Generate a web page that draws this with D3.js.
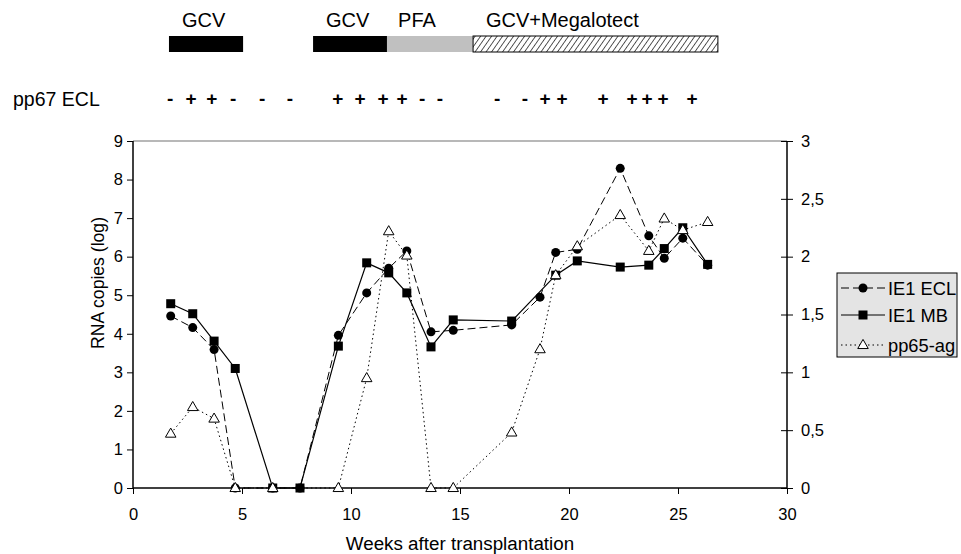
<!DOCTYPE html>
<head>
    <meta charset="utf-8" />
    <script src="https://d3js.org/d3.v7.min.js"></script>
    <style>
        body { margin: 0; background: #fff; }
        text { font-family: "Liberation Sans", Arial, sans-serif; fill: #000; }
    </style>
</head>
<body>
    <script>
        // data
        var weeks = [1.73, 2.74, 3.72, 4.69, 6.41, 7.66, 9.42, 10.72, 11.73, 12.56, 13.67, 14.69, 17.37, 18.67, 19.39, 20.38, 22.35, 23.66, 24.37, 25.22, 26.36];
        var ie1Ecl = [4.46, 4.16, 3.59, 0, 0, 0, 3.96, 5.06, 5.70, 6.15, 4.05, 4.09, 4.23, 4.95, 6.11, 6.19, 8.29, 6.54, 5.96, 6.48, 5.78];
        var ie1Mb = [4.78, 4.52, 3.81, 3.10, 0, 0, 3.68, 5.84, 5.58, 5.06, 3.66, 4.36, 4.33, null, 5.52, 5.89, 5.73, 5.78, 6.21, 6.75, 5.80];
        var pp65ag = [0.47, 0.70, 0.60, 0, 0, null, 0, 0.95, 2.22, 2.01, 0, 0, 0.48, 1.20, 1.84, 2.09, 2.36, 2.05, 2.33, 2.23, 2.30];

        var pp67Signs = ["-", "+", "+", "-", "-", "-", "+", "+", "+", "+", "-", "-", "-", "-", "+", "+", "+", "+", "+", "+", "+"];
        var pp67Weeks = [1.70, 2.66, 3.62, 4.59, 5.92, 7.20, 9.40, 10.41, 11.47, 12.34, 13.26, 14.08, 16.70, 17.98, 18.90, 19.68, 21.56, 22.89, 23.58, 24.31, 25.64];

        var therapyNames = ["GCV", "GCV", "PFA", "GCV+Megalotect"];
        var therapyStart = [1.65, 8.26, 11.65, 15.6];
        var therapyEnd = [5.05, 11.65, 15.6, 26.83];
        var therapyLabelAt = [2.25, 8.85, 12.16, 16.19];
        var therapyFill = ["black", "black", "grey", "hatch"];

        var xTicks = [0, 5, 10, 15, 20, 25, 30];
        var yTicks = [0, 1, 2, 3, 4, 5, 6, 7, 8, 9];
        var y2Ticks = [0, 0.5, 1, 1.5, 2, 2.5, 3];

        var width = 961, height = 554;
        var plotL = 133, plotR = 787, plotT = 141, plotB = 488;

        var svg = d3.select("body").append("svg")
            .attr("width", width)
            .attr("height", height);

        var defs = svg.append("defs");
        var pat = defs.append("pattern")
            .attr("id", "hatch")
            .attr("patternUnits", "userSpaceOnUse")
            .attr("width", 4.5).attr("height", 4.5)
            .attr("patternTransform", "rotate(35)");
        pat.append("rect").attr("width", 4.5).attr("height", 4.5).attr("fill", "#fff");
        pat.append("line").attr("x1", 0).attr("y1", 0).attr("x2", 0).attr("y2", 4.5)
            .attr("stroke", "#000").attr("stroke-width", 1.3);

        var x = d3.scaleLinear().domain([0, 30]).range([plotL, plotR]);
        var y = d3.scaleLinear().domain([0, 9]).range([plotB, plotT]);
        var y2 = d3.scaleLinear().domain([0, 3]).range([plotB, plotT]);

        // therapy bars
        var fills = { black: "#000", grey: "#c0c0c0", hatch: "url(#hatch)" };
        therapyNames.forEach(function (n, i) {
            svg.append("rect")
                .attr("x", x(therapyStart[i]))
                .attr("y", 36)
                .attr("width", x(therapyEnd[i]) - x(therapyStart[i]))
                .attr("height", 16)
                .attr("fill", fills[therapyFill[i]])
                .attr("stroke", therapyFill[i] == "hatch" ? "#000" : "none")
                .attr("stroke-width", 1);
            svg.append("text")
                .attr("x", x(therapyLabelAt[i]))
                .attr("y", 27)
                .attr("font-size", 20)
                .text(n);
        });

        // pp67 ECL row
        svg.append("text").attr("x", 13).attr("y", 106).attr("font-size", 19.5).text("pp67 ECL");
        svg.selectAll(".sign")
            .data(pp67Signs)
            .join("text")
            .attr("class", "sign")
            .attr("x", function (d, i) { return x(pp67Weeks[i]); })
            .attr("y", 105)
            .attr("text-anchor", "middle")
            .attr("font-size", 19)
            .attr("font-weight", "bold")
            .text(function (d) { return d; });

        // top border
        svg.append("line")
            .attr("x1", plotL).attr("x2", plotR).attr("y1", plotT).attr("y2", plotT)
            .attr("stroke", "#a0a0a0").attr("stroke-width", 1.5);

        // axes
        var gx = svg.append("g").attr("transform", "translate(0," + plotB + ")")
            .call(d3.axisBottom(x).tickValues(xTicks).tickSize(6).tickPadding(14));
        var gy = svg.append("g").attr("transform", "translate(" + plotL + ",0)")
            .call(d3.axisLeft(y).tickValues(yTicks).tickSize(6).tickPadding(4));
        var gy2 = svg.append("g").attr("transform", "translate(" + plotR + ",0)")
            .call(d3.axisRight(y2).tickValues(y2Ticks).tickSize(6).tickPadding(8)
                .tickFormat(function (d) { return String(d).replace(".", ","); }));
        gy2.selectAll(".tick line").attr("x1", -6);
        [gx, gy, gy2].forEach(function (g) {
            g.select(".domain").attr("stroke", "#000").attr("stroke-width", 1.5);
            g.selectAll(".tick line").attr("stroke", "#000").attr("stroke-width", 1);
            g.selectAll(".tick text").attr("font-size", 16.5).attr("font-family", "Liberation Sans, Arial, sans-serif").attr("fill", "#000");
        });
        gx.select(".domain").attr("d", "M" + plotL + ",0H" + plotR);
        gy.select(".domain").attr("d", "M0," + plotB + "V" + plotT);
        gy2.select(".domain").attr("d", "M0," + plotB + "V" + plotT);

        svg.append("text")
            .attr("transform", "translate(104," + 283 + ") rotate(-90)")
            .attr("text-anchor", "middle")
            .attr("font-size", 17.6)
            .text("RNA copies (log)");
        svg.append("text")
            .attr("x", (plotL + plotR) / 2)
            .attr("y", 550)
            .attr("text-anchor", "middle")
            .attr("font-size", 18.8)
            .text("Weeks after transplantation");

        function pts(vals, scale) {
            var out = [];
            vals.forEach(function (v, i) { if (v !== null) out.push([x(weeks[i]), scale(v)]); });
            return out;
        }
        var line = d3.line();

        var eclPts = pts(ie1Ecl, y), mbPts = pts(ie1Mb, y), ppPts = pts(pp65ag, y2);

        svg.append("path").attr("d", line(eclPts)).attr("fill", "none")
            .attr("stroke", "#000").attr("stroke-width", 1).attr("stroke-dasharray", "8,4");
        svg.selectAll(".ecl").data(eclPts).join("circle").attr("class", "ecl")
            .attr("cx", function (d) { return d[0]; }).attr("cy", function (d) { return d[1]; })
            .attr("r", 4.5).attr("fill", "#000");

        svg.append("path").attr("d", line(mbPts)).attr("fill", "none")
            .attr("stroke", "#000").attr("stroke-width", 1.2);
        svg.selectAll(".mb").data(mbPts).join("rect").attr("class", "mb")
            .attr("x", function (d) { return d[0] - 4.5; }).attr("y", function (d) { return d[1] - 4.5; })
            .attr("width", 9).attr("height", 9).attr("fill", "#000");

        svg.append("path").attr("d", line(ppPts)).attr("fill", "none")
            .attr("stroke", "#000").attr("stroke-width", 1).attr("stroke-dasharray", "1.5,3");
        var tri = d3.symbol().type(d3.symbolTriangle).size(48);
        svg.selectAll(".pp").data(ppPts).join("path").attr("class", "pp")
            .attr("d", tri)
            .attr("transform", function (d) { return "translate(" + d[0] + "," + (d[1] + 0.5) + ")"; })
            .attr("fill", "#fff").attr("stroke", "#000").attr("stroke-width", 1);

        // legend
        var lg = svg.append("g").attr("transform", "translate(837,273)");
        lg.append("rect").attr("width", 120).attr("height", 84)
            .attr("fill", "#e4e4e4").attr("stroke", "#000").attr("stroke-width", 1);
        var legNames = ["IE1 ECL", "IE1 MB", "pp65-ag"];
        var legDash = ["8,4", null, "1.5,3"];
        [15, 42, 72].forEach(function (ry, i) {
            lg.append("line").attr("x1", 4).attr("x2", 48).attr("y1", ry).attr("y2", ry)
                .attr("stroke", "#000").attr("stroke-width", 1)
                .attr("stroke-dasharray", legDash[i]);
            if (i == 0) lg.append("circle").attr("cx", 26).attr("cy", ry).attr("r", 4.5).attr("fill", "#000");
            if (i == 1) lg.append("rect").attr("x", 21.5).attr("y", ry - 4.5).attr("width", 9).attr("height", 9).attr("fill", "#000");
            if (i == 2) lg.append("path").attr("d", tri).attr("transform", "translate(26," + (ry + 0.5) + ")")
                .attr("fill", "#fff").attr("stroke", "#000");
            lg.append("text").attr("x", 51).attr("y", ry + 6.5).attr("font-size", 18.3).text(legNames[i]);
        });
    </script>
</body>
